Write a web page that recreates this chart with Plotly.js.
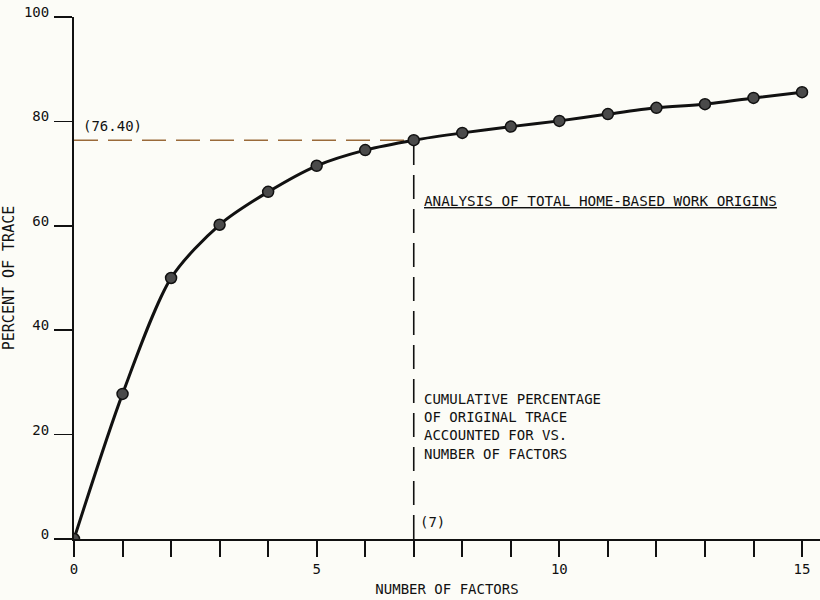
<!DOCTYPE html>
<html>
<head>
<meta charset="utf-8">
<script src="https://cdn.plot.ly/plotly-3.0.1.min.js"></script>
<style>html,body{margin:0;padding:0;background:#fcfcf7;}#chart{width:820px;height:600px;}</style>
</head>
<body>
<div id="chart"></div>
<script>
// Data
const factors = [0,1,2,3,4,5,6,7,8,9,10,11,12,13,14,15];
const percentTrace = [0,27.8,50.0,60.2,66.5,71.5,74.5,76.4,77.8,79.0,80.1,81.4,82.6,83.3,84.5,85.6];
const xTickVals = [0,1,2,3,4,5,6,7,8,9,10,11,12,13,14,15];
const xTickText = ['0','','','','','5','','','','','10','','','','','15'];
const yTickVals = [0,20,40,60,80,100];
const yTickText = ['0','20','40','60','80','100'];
const cutoffFactors = 7;
const cutoffPercent = 76.40;

const font = 'DejaVu Sans Mono, monospace';

const traces = [
  {
    x: [0, cutoffFactors], y: [cutoffPercent, cutoffPercent],
    mode: 'lines', line: {color: '#9a6a3a', width: 1.6, dash: '24px,10px'},
    hoverinfo: 'skip', showlegend: false
  },
  {
    x: [cutoffFactors, cutoffFactors], y: [0, cutoffPercent],
    mode: 'lines', line: {color: '#111', width: 1.6, dash: '24px,10px'},
    hoverinfo: 'skip', showlegend: false
  },
  {
    x: factors, y: percentTrace,
    mode: 'lines+markers',
    line: {color: '#111', width: 3, shape: 'spline', smoothing: 0.8},
    marker: {size: 11, color: '#4a4a4a', line: {color: '#111', width: 1.5}},
    showlegend: false
  }
];

const layout = {
  width: 820, height: 600,
  paper_bgcolor: '#fcfcf7', plot_bgcolor: '#fcfcf7',
  margin: {l: 74, r: 0, t: 17, b: 61},
  font: {family: font, size: 14, color: '#111'},
  showlegend: false,
  xaxis: {
    range: [0, 15.37], tickvals: xTickVals, ticktext: xTickText,
    ticks: 'outside', ticklen: 16, tickwidth: 2, tickcolor: '#111',
    showline: true, linecolor: '#111', linewidth: 2,
    showgrid: false, zeroline: false,
    tickfont: {family: font, size: 14},
    title: {text: 'NUMBER OF FACTORS', font: {family: font, size: 14}, standoff: 8}
  },
  yaxis: {
    range: [0, 100], tickvals: yTickVals, ticktext: yTickText,
    ticks: 'outside', ticklen: 18, tickwidth: 1.5, tickcolor: '#111',
    showline: true, linecolor: '#111', linewidth: 2,
    showgrid: false, zeroline: false,
    ticklabelshift: -5, ticklabelstandoff: 2,
    tickfont: {family: font, size: 14},
    title: {text: 'PERCENT OF TRACE', font: {family: font, size: 15}, standoff: 6}
  },
  annotations: [
    {x: 0.15, y: cutoffPercent, xref: 'x', yref: 'y', text: '(76.40)', showarrow: false,
     xanchor: 'left', yanchor: 'bottom', yshift: 4, font: {family: font, size: 14}},
    {x: 7.17, y: 64.8, xref: 'x', yref: 'y', text: '<u>ANALYSIS OF TOTAL HOME-BASED WORK ORIGINS</u>', showarrow: false,
     xanchor: 'left', yanchor: 'middle', font: {family: font, size: 14.3}},
    {x: 7.17, y: 21.5, xref: 'x', yref: 'y', text: 'CUMULATIVE PERCENTAGE<br>OF ORIGINAL TRACE<br>ACCOUNTED FOR VS.<br>NUMBER OF FACTORS', showarrow: false,
     xanchor: 'left', yanchor: 'middle', align: 'left', font: {family: font, size: 14}},
    {x: 7.08, y: 3.3, xref: 'x', yref: 'y', text: '(7)', showarrow: false,
     xanchor: 'left', yanchor: 'middle', font: {family: font, size: 14}}
  ]
};

Plotly.newPlot('chart', traces, layout, {displayModeBar: false, staticPlot: true});
</script>
</body>
</html>
